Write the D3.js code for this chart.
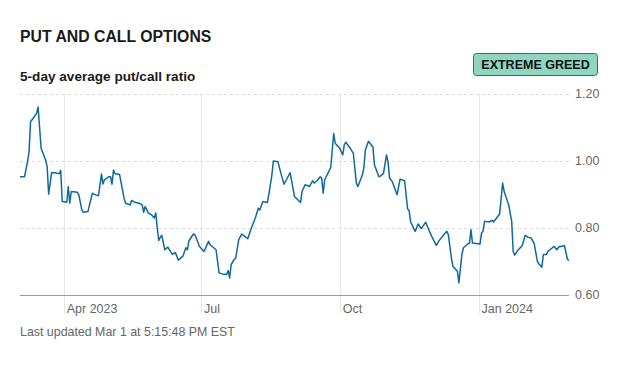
<!DOCTYPE html>
<html>
<head>
<meta charset="utf-8">
<script src="https://cdn.jsdelivr.net/npm/d3@7"></script>
<style>
  html, body { margin: 0; padding: 0; background: #fff; }
  svg { display: block; font-family: "Liberation Sans", Arial, sans-serif; }
</style>
</head>
<body>
<svg id="chart" width="641" height="365"></svg>
<script>
// ---- Data (5-day average put/call ratio) ----
const dates = [
"2023-03-03","2023-03-06","2023-03-08","2023-03-09","2023-03-10","2023-03-12","2023-03-14","2023-03-15",
"2023-03-17","2023-03-20","2023-03-21","2023-03-22","2023-03-24","2023-03-26","2023-03-29","2023-03-30",
"2023-03-31","2023-04-03","2023-04-04","2023-04-05","2023-04-06","2023-04-10","2023-04-11","2023-04-13",
"2023-04-14","2023-04-17","2023-04-20","2023-04-21","2023-04-24","2023-04-26","2023-04-27","2023-04-28",
"2023-05-01","2023-05-02","2023-05-03","2023-05-04","2023-05-05","2023-05-08","2023-05-11","2023-05-12",
"2023-05-15","2023-05-16","2023-05-18","2023-05-21","2023-05-23","2023-05-24","2023-05-25","2023-05-27",
"2023-05-29","2023-05-31","2023-06-01","2023-06-02","2023-06-03","2023-06-04","2023-06-05","2023-06-07",
"2023-06-09","2023-06-12","2023-06-14","2023-06-16","2023-06-19","2023-06-21","2023-06-22","2023-06-23",
"2023-06-26","2023-06-27","2023-06-30","2023-07-03","2023-07-06","2023-07-07","2023-07-11","2023-07-13",
"2023-07-15","2023-07-18","2023-07-19","2023-07-20","2023-07-21","2023-07-23","2023-07-24","2023-07-26",
"2023-07-28","2023-07-30","2023-08-01","2023-08-03","2023-08-06","2023-08-08","2023-08-09","2023-08-11",
"2023-08-14","2023-08-15","2023-08-17","2023-08-18","2023-08-21","2023-08-23","2023-08-25","2023-08-27",
"2023-08-29","2023-08-30","2023-09-01","2023-09-05","2023-09-06","2023-09-08","2023-09-11","2023-09-13",
"2023-09-14","2023-09-16","2023-09-18","2023-09-19","2023-09-20","2023-09-21","2023-09-22","2023-09-25",
"2023-09-27","2023-09-28","2023-10-01","2023-10-03","2023-10-04","2023-10-05","2023-10-08","2023-10-10",
"2023-10-12","2023-10-13","2023-10-16","2023-10-17","2023-10-18","2023-10-20","2023-10-23","2023-10-24",
"2023-10-27","2023-10-28","2023-10-30","2023-11-01","2023-11-02","2023-11-03","2023-11-05","2023-11-06",
"2023-11-08","2023-11-10","2023-11-13","2023-11-15","2023-11-16","2023-11-17","2023-11-20","2023-11-22",
"2023-11-24","2023-11-27","2023-11-29","2023-12-01","2023-12-04","2023-12-06","2023-12-09","2023-12-11",
"2023-12-12","2023-12-14","2023-12-15","2023-12-18","2023-12-19","2023-12-21","2023-12-22","2023-12-25",
"2023-12-26","2023-12-27","2023-12-28","2024-01-02","2024-01-03","2024-01-04","2024-01-05","2024-01-08",
"2024-01-10","2024-01-11","2024-01-15","2024-01-17","2024-01-18","2024-01-21","2024-01-23","2024-01-24",
"2024-01-25","2024-01-27","2024-01-30","2024-02-01","2024-02-03","2024-02-05","2024-02-07","2024-02-09",
"2024-02-10","2024-02-12","2024-02-13","2024-02-15","2024-02-16","2024-02-19","2024-02-20","2024-02-22",
"2024-02-23","2024-02-27","2024-02-29","2024-03-01"
];
const ratios = [
0.953,0.953,0.998,1.028,1.117,1.129,1.142,1.161,
1.038,1.003,0.983,0.901,0.966,0.965,0.962,0.972,
0.879,0.877,0.924,0.874,0.909,0.907,0.899,0.854,
0.847,0.849,0.904,0.901,0.896,0.961,0.931,0.944,
0.953,0.953,0.931,0.973,0.962,0.960,0.889,0.874,
0.869,0.882,0.877,0.874,0.869,0.847,0.864,0.845,
0.840,0.830,0.845,0.800,0.763,0.772,0.778,0.735,
0.743,0.721,0.727,0.704,0.716,0.741,0.735,0.762,
0.782,0.780,0.745,0.730,0.760,0.750,0.735,0.666,
0.663,0.661,0.673,0.651,0.691,0.706,0.709,0.765,
0.782,0.775,0.768,0.795,0.830,0.859,0.854,0.879,
0.876,0.901,0.958,1.000,0.998,0.963,0.931,0.947,
0.965,0.944,0.894,0.876,0.909,0.929,0.924,0.941,
0.934,0.941,0.953,0.949,0.904,0.944,0.953,0.980,
1.082,1.053,1.038,1.018,1.048,1.056,1.038,1.023,
0.934,0.924,0.958,0.980,1.033,1.059,1.042,0.988,
0.953,0.955,0.963,1.018,0.998,0.950,0.937,0.924,
0.899,0.946,0.941,0.857,0.852,0.818,0.790,0.812,
0.798,0.817,0.795,0.775,0.748,0.763,0.780,0.790,
0.780,0.711,0.686,0.671,0.636,0.721,0.741,0.753,
0.755,0.795,0.755,0.752,0.785,0.790,0.820,0.818,
0.823,0.818,0.842,0.934,0.909,0.869,0.820,0.730,
0.719,0.733,0.748,0.778,0.772,0.770,0.752,0.701,
0.693,0.683,0.721,0.721,0.730,0.741,0.745,0.735,
0.743,0.747,0.706,0.703
];
const yTicks = [0.60, 0.80, 1.00, 1.20];
const xTickDates = ["2023-04-01","2023-07-01","2023-10-01","2024-01-01"];
const xTickLabels = ["Apr 2023","Jul","Oct","Jan 2024"];
const titleText = "PUT AND CALL OPTIONS";
const subtitleText = "5-day average put/call ratio";
const badgeText = "EXTREME GREED";
const footerText = "Last updated Mar 1 at 5:15:48 PM EST";

// ---- Build ----
const parse = d3.utcParse("%Y-%m-%d");
const data = dates.map((d, i) => ({ date: parse(d), value: ratios[i] }));

const svg = d3.select("#chart");
const pLeft = 20, pRight = 569, pTop = 94, pBottom = 295;

const x = d3.scaleUtc()
  .domain(d3.extent(data, d => d.date))
  .range([pLeft, pRight]);
const y = d3.scaleLinear().domain([0.6, 1.2]).range([pBottom, pTop]);

// Title & subtitle
svg.append("text").attr("x", 20).attr("y", 42)
  .attr("font-size", 15.8).attr("font-weight", 700).attr("fill", "#1a1a1a")
  .text(titleText);
svg.append("text").attr("x", 20).attr("y", 81)
  .attr("font-size", 13.6).attr("font-weight", 700).attr("fill", "#1a1a1a")
  .text(subtitleText);

// Badge
const badge = svg.append("g");
badge.append("rect").attr("x", 473.5).attr("y", 53.5).attr("width", 124).attr("height", 22)
  .attr("rx", 3).attr("fill", "#8fd5bf").attr("stroke", "#2c7a57").attr("stroke-width", 1);
badge.append("text").attr("x", 535.5).attr("y", 69)
  .attr("text-anchor", "middle").attr("font-size", 12.5).attr("font-weight", 700)
  .attr("fill", "#111").text(badgeText);

// Vertical gridlines & x labels
const xt = xTickDates.map(parse);
svg.append("g").selectAll("line").data(xt).join("line")
  .attr("x1", d => Math.round(x(d)) + 0.5).attr("x2", d => Math.round(x(d)) + 0.5)
  .attr("y1", pTop).attr("y2", 313)
  .attr("stroke", "#e6e6e6").attr("stroke-width", 1);
svg.append("g").selectAll("text").data(xt).join("text")
  .attr("x", d => x(d) + 3).attr("y", 313)
  .attr("font-size", 12.5).attr("fill", "#666")
  .text((d, i) => xTickLabels[i]);

// Horizontal gridlines
svg.append("g").selectAll("line").data(yTicks.filter(t => t > 0.6)).join("line")
  .attr("x1", pLeft).attr("x2", pRight)
  .attr("y1", d => Math.round(y(d)) + 0.5).attr("y2", d => Math.round(y(d)) + 0.5)
  .attr("stroke", "#dcdcdc").attr("stroke-dasharray", "3,3");
// Baseline
svg.append("line").attr("x1", pLeft).attr("x2", pRight)
  .attr("y1", Math.round(y(0.6)) + 0.5).attr("y2", Math.round(y(0.6)) + 0.5)
  .attr("stroke", "#9a9a9a").attr("stroke-width", 1);

// Y labels
svg.append("g").selectAll("text").data(yTicks).join("text")
  .attr("x", 575).attr("y", d => y(d)).attr("dy", "0.35em")
  .attr("font-size", 12.5).attr("fill", "#666")
  .text(d => d.toFixed(2));

// Line
const line = d3.line().x(d => x(d.date)).y(d => y(d.value));
svg.append("path").datum(data).attr("d", line)
  .attr("fill", "none").attr("stroke", "#10699c").attr("stroke-width", 1.5)
  .attr("stroke-linejoin", "round");

// Footer
svg.append("text").attr("x", 20).attr("y", 336)
  .attr("font-size", 12.4).attr("fill", "#666").text(footerText);
</script>
</body>
</html>
